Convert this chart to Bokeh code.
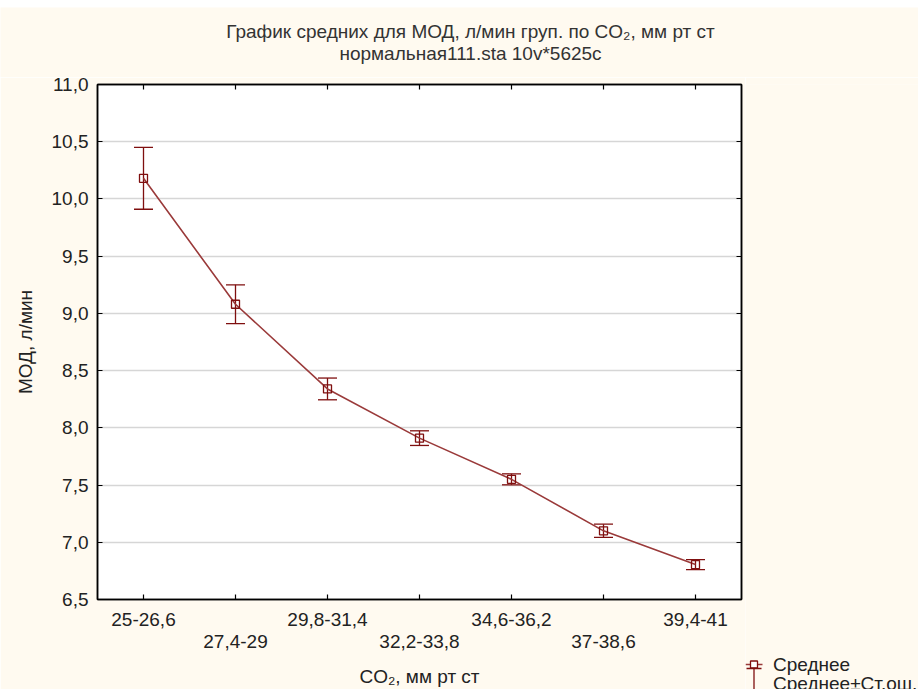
from bokeh.plotting import figure
from bokeh.models import (ColumnDataSource, Whisker, TeeHead, LinearAxis, FixedTicker,
                          CustomJSTickFormatter, Range1d, Spacer)
from bokeh.core.properties import value
from bokeh.layouts import column, row
from bokeh.embed import file_html
from bokeh.resources import INLINE

# ---- data ----
categories = ["25-26,6", "27,4-29", "29,8-31,4", "32,2-33,8", "34,6-36,2", "37-38,6", "39,4-41"]
means = [10.18, 9.08, 8.34, 7.91, 7.55, 7.10, 6.805]
std_err = [0.27, 0.17, 0.095, 0.064, 0.048, 0.058, 0.044]
y_ticks = [6.5, 7.0, 7.5, 8.0, 8.5, 9.0, 9.5, 10.0, 10.5, 11.0]
y_tick_labels = ["6,5", "7,0", "7,5", "8,0", "8,5", "9,0", "9,5", "10,0", "10,5", "11,0"]
title_lines = ["График средних для МОД, л/мин груп. по CO₂, мм рт ст",
               "нормальная111.sta 10v*5625c"]
x_title = "CO₂, мм рт ст"
y_title = "МОД, л/мин"
legend_labels = ["Среднее", "Среднее±Ст.ош."]

x_idx = list(range(len(categories)))
lower = [m - s for m, s in zip(means, std_err)]
upper = [m + s for m, s in zip(means, std_err)]

FONT = "Liberation Sans"
DARK = "#7F0F0F"
LINE = "#9A3A3A"
TXT = "#222222"
CREAM = "#FFFAF0"

W = 918          # whole picture width
TOP_WHITE = 7    # white strip at the very top
TH = 70          # title band height
PW = 745         # width of the chart part
RW = W - PW      # width of the legend column
PH = 612         # height of the chart part


def bare_figure(fw, fh):
    f = figure(frame_width=fw, frame_height=fh, x_range=Range1d(0, fw), y_range=Range1d(0, fh),
               output_backend="svg", toolbar_location=None, min_border=0,
               x_axis_location=None, y_axis_location=None)
    f.title.visible = False
    f.outline_line_color = None
    f.background_fill_color = CREAM
    f.border_fill_color = CREAM
    f.xgrid.visible = False
    f.ygrid.visible = False
    return f


# ---- title band ----
tf = bare_figure(W, TH)
tf.text(x=[470, 470], y=[TH - 24, TH - 46], text=title_lines, text_align="center",
        text_baseline="middle", text_font=value(FONT), text_font_size=value("19px"),
        text_color="#333333")

# ---- main chart ----
p = figure(width=PW, height=PH, x_range=Range1d(-0.5, 6.5), y_range=Range1d(6.5, 11.0),
           output_backend="svg", toolbar_location=None,
           min_border_left=97, min_border_right=4, min_border_top=7, min_border_bottom=88,
           x_axis_location=None, y_axis_location=None)
p.title.visible = False
p.border_fill_color = CREAM
p.background_fill_color = "white"
p.outline_line_color = "black"
p.outline_line_width = 1.5

xticker = FixedTicker(ticks=x_idx)
yticker = FixedTicker(ticks=y_ticks)

yfmt = CustomJSTickFormatter(args=dict(tvals=y_ticks, labs=y_tick_labels), code="""
const i = tvals.findIndex(t => Math.abs(t - tick) < 1e-6);
return i >= 0 ? labs[i] : '';
""")
even_fmt = CustomJSTickFormatter(args=dict(labs=categories), code="""
const i = Math.round(tick);
return (i % 2 == 0) ? labs[i] : '';
""")
odd_fmt = CustomJSTickFormatter(args=dict(labs=categories), code="""
const i = Math.round(tick);
return (i % 2 == 1) ? labs[i] : '';
""")
blank_fmt = CustomJSTickFormatter(code="return '';")


def style_axis(ax):
    ax.major_tick_in = 5
    ax.major_tick_out = 0
    ax.minor_tick_line_color = None
    ax.axis_line_color = "black"
    ax.axis_line_width = 1.5
    ax.major_tick_line_color = "black"
    ax.major_tick_line_width = 1.2
    ax.major_label_text_font = FONT
    ax.major_label_text_font_size = "19px"
    ax.major_label_text_color = TXT
    ax.axis_label_text_font = FONT
    ax.axis_label_text_font_size = "19px"
    ax.axis_label_text_font_style = "normal"
    ax.axis_label_text_color = TXT


yl = LinearAxis(ticker=yticker, formatter=yfmt, axis_label=y_title)
style_axis(yl)
yl.major_label_standoff = 9
yl.axis_label_standoff = 13
p.add_layout(yl, "left")

yr = LinearAxis(ticker=yticker, formatter=blank_fmt)
style_axis(yr)
yr.major_label_text_font_size = "1px"
yr.major_label_standoff = 0
p.add_layout(yr, "right")

xt = LinearAxis(ticker=xticker, formatter=blank_fmt)
style_axis(xt)
xt.major_label_text_font_size = "1px"
xt.major_label_standoff = 0
p.add_layout(xt, "above")

xb1 = LinearAxis(ticker=xticker, formatter=even_fmt)
style_axis(xb1)
xb1.major_label_standoff = 13
p.add_layout(xb1, "below")

xb2 = LinearAxis(ticker=xticker, formatter=odd_fmt, axis_label=x_title)
style_axis(xb2)
xb2.axis_line_color = None
xb2.major_tick_line_color = None
xb2.major_label_standoff = 6
xb2.axis_label_standoff = 15
p.add_layout(xb2, "below")

p.xgrid.visible = False
p.ygrid.ticker = yticker
p.ygrid.grid_line_color = "#D6D6D6"
p.ygrid.grid_line_width = 1.5

src = ColumnDataSource(dict(x=x_idx, mean=means, lower=lower, upper=upper))
p.line("x", "mean", source=src, line_color=LINE, line_width=1.6)
p.add_layout(Whisker(base="x", upper="upper", lower="lower", source=src,
                     line_color=DARK, line_width=1.3,
                     upper_head=TeeHead(size=19, line_color=DARK, line_width=1.3),
                     lower_head=TeeHead(size=19, line_color=DARK, line_width=1.3)))
p.scatter("x", "mean", source=src, marker="square", size=8, line_color=DARK,
          line_width=1.3, fill_alpha=0)

# ---- legend column to the right of the chart ----
rf = bare_figure(RW, PH)
gx = 8.5                 # icon centre
row_y = [32, 13]         # legend rows (from the bottom edge)
# icon 1: line through a small square
rf.line(x=[gx - 8.5, gx + 8.5], y=[row_y[0], row_y[0]], line_color=LINE, line_width=1.4)
rf.scatter(x=[gx], y=[row_y[0]], marker="square", size=7, line_color=DARK,
           line_width=1.3, fill_color="white")
# icon 2: T (mean ± s.e. whisker)
rf.segment(x0=[gx - 7.5, gx], y0=[28, 28], x1=[gx + 7.5, gx], y1=[28, 0],
           line_color=DARK, line_width=1.3)
rf.text(x=[gx + 19, gx + 19], y=row_y, text=legend_labels, text_baseline="middle",
        text_font=value(FONT), text_font_size=value("19px"), text_color=TXT)

layout = column(Spacer(width=W, height=TOP_WHITE), tf, row(p, rf, spacing=0), spacing=0)
open("out.html", "w").write(file_html(layout, INLINE))
